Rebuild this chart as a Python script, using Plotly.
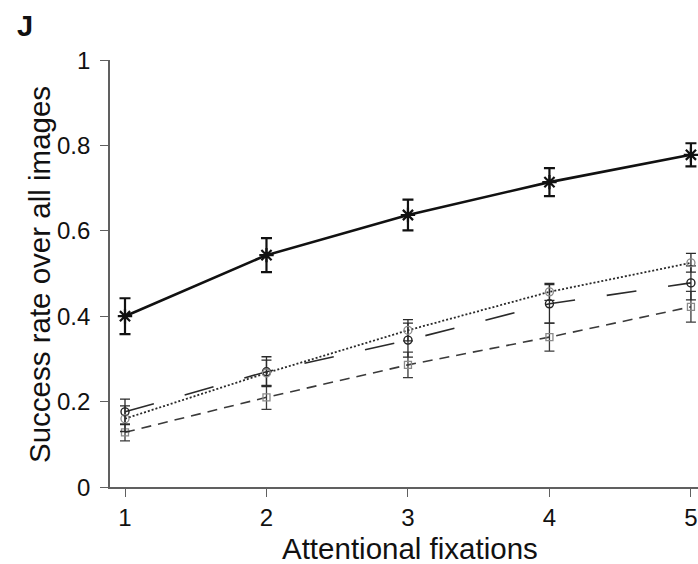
import plotly.graph_objects as go

fixations = [1, 2, 3, 4, 5]

# Series values (success rate) and error bar half-widths
solid_vals = [0.400, 0.543, 0.637, 0.714, 0.778]
solid_err = [0.042, 0.040, 0.036, 0.033, 0.027]

dotted_vals = [0.160, 0.267, 0.367, 0.457, 0.525]
dotted_err = [0.030, 0.030, 0.025, 0.020, 0.022]

longdash_vals = [0.176, 0.270, 0.344, 0.429, 0.478]
longdash_err = [0.030, 0.035, 0.040, 0.045, 0.040]

shortdash_vals = [0.128, 0.210, 0.286, 0.351, 0.422]
shortdash_err = [0.020, 0.028, 0.030, 0.033, 0.036]

y_ticks = [0, 0.2, 0.4, 0.6, 0.8, 1]
y_tick_text = ["0", "0.2", "0.4", "0.6", "0.8", "1"]

FONT = "Liberation Sans, Arial, Helvetica, sans-serif"

fig = go.Figure()

def add_series(vals, err, line_color, dash, lw, msym, msize, mcolor, mlw, ecolor, ew, ethick):
    fig.add_trace(go.Scatter(
        x=fixations, y=vals, mode="lines+markers",
        line=dict(color=line_color, dash=dash, width=lw),
        marker=dict(symbol=msym, size=msize, color=mcolor,
                    line=dict(color=mcolor, width=mlw)),
        error_y=dict(type="data", array=err, visible=True,
                     color=ecolor, thickness=ethick, width=ew),
        cliponaxis=False, showlegend=False,
    ))

add_series(shortdash_vals, shortdash_err, "#3a3a3a", "10px,7px", 1.6,
           "square-open", 7, "#8a8a8a", 1.3, "#3a3a3a", 5, 1.3)
add_series(longdash_vals, longdash_err, "#2a2a2a", "30px,32px", 1.6,
           "circle-open", 8, "#222222", 1.4, "#2a2a2a", 5, 1.3)
add_series(dotted_vals, dotted_err, "#2a2a2a", "2px,2px", 1.8,
           "circle-open", 8, "#8a8a8a", 1.3, "#2a2a2a", 5, 1.3)
add_series(solid_vals, solid_err, "#111111", "solid", 2.6,
           "asterisk-open", 12, "#111111", 2.2, "#111111", 5.5, 2.2)

PW, PH, L, T = 588, 427, 110, 60

annotations = [
    dict(text="<b>J</b>", xref="paper", yref="paper",
         x=(15 - L) / PW, y=1 + 34 / PH, xanchor="left", yanchor="middle",
         showarrow=False, font=dict(size=29, family=FONT, color="#111111")),
    dict(text="Success rate over all images", xref="paper", yref="paper",
         x=(39 - L) / PW, y=1 - (275 - T) / PH, xanchor="center", yanchor="middle",
         textangle=-90, showarrow=False,
         font=dict(size=29.5, family=FONT, color="#111111")),
    dict(text="Attentional fixations", xref="paper", yref="paper",
         x=(410 - L) / PW, y=1 - (548 - T) / PH, xanchor="center", yanchor="middle",
         showarrow=False, font=dict(size=29.5, family=FONT, color="#111111")),
]
# y tick labels, placed with a wider gap from the tick marks
for v, t in zip(y_ticks, y_tick_text):
    annotations.append(dict(
        text=t, xref="paper", yref="y", x=(91 - L) / PW, y=v,
        xanchor="right", yanchor="middle", showarrow=False,
        borderpad=0, font=dict(size=24, family=FONT, color="#111111")))

fig.update_layout(
    width=698, height=564,
    margin=dict(l=L, r=0, t=T, b=77),
    plot_bgcolor="white", paper_bgcolor="white",
    font=dict(family=FONT, color="#111111"),
    xaxis=dict(
        range=[0.894, 5.05], tickvals=fixations,
        ticktext=[str(v) for v in fixations],
        showline=True, linecolor="#606060", linewidth=1.5,
        ticks="outside", ticklen=8, tickcolor="#606060", tickwidth=1.3,
        showgrid=False, zeroline=False,
        tickfont=dict(size=24, family=FONT, color="#111111"),
    ),
    yaxis=dict(
        range=[0, 1], tickvals=y_ticks, showticklabels=False,
        showline=True, linecolor="#606060", linewidth=1.5,
        ticks="outside", ticklen=8, tickcolor="#606060", tickwidth=1.3,
        showgrid=False, zeroline=False,
    ),
    annotations=annotations,
)

fig.write_html("out.html")
